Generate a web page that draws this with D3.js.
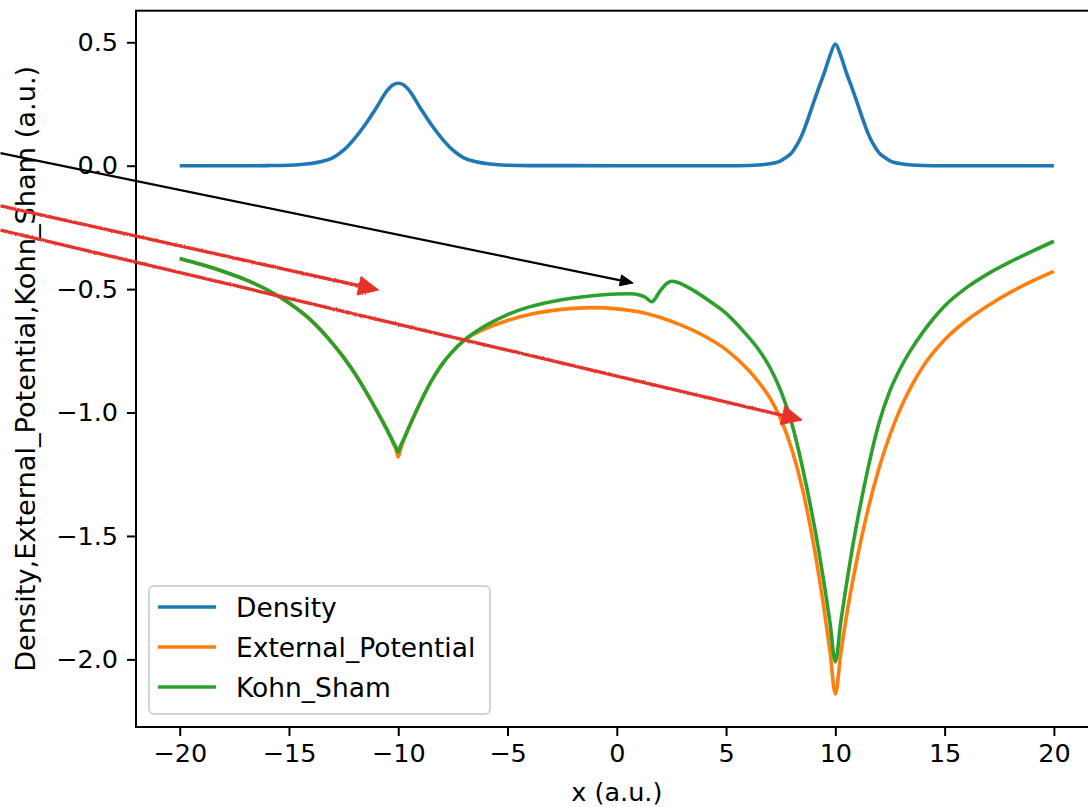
<!DOCTYPE html>
<html>
<head>
<meta charset="utf-8">
<script src="https://cdn.jsdelivr.net/npm/d3@7"></script>
<style>
  body { margin: 0; background: #fff; }
  svg { display: block; }
  text { font-family: "DejaVu Sans", sans-serif; fill: #000; }
</style>
</head>
<body>
<svg width="1088" height="807"></svg>
<script>
// series
const densityX = [-20, -17, -16, -15, -14, -13.5, -13, -12.5, -12, -11.5, -11, -10.5, -10.25, -10, -9.75, -9.5, -9, -8.5, -8, -7.5, -7, -6.5, -6, -5, -4, 0,
  5, 6, 6.5, 7, 7.25, 7.5, 7.75, 8, 8.25, 8.5, 8.75, 9, 9.25, 9.5, 9.75, 10, 10.25, 10.5, 10.75, 11, 11.25, 11.5, 11.75, 12, 12.25, 12.5, 12.75, 13, 13.5, 14, 15, 20];
const densityY = [0, 0, 0.0005, 0.002, 0.009, 0.017, 0.032, 0.063, 0.11, 0.168, 0.235, 0.305, 0.327, 0.334, 0.327, 0.305, 0.235, 0.168, 0.11, 0.063, 0.032, 0.017, 0.009, 0.002, 0.0005, 0,
  0, 0.001, 0.003, 0.008, 0.012, 0.02, 0.034, 0.052, 0.085, 0.13, 0.19, 0.255, 0.318, 0.378, 0.445, 0.493, 0.445, 0.378, 0.318, 0.255, 0.19, 0.13, 0.085, 0.052, 0.034, 0.02, 0.012, 0.008, 0.003, 0.001, 0, 0];

const extX = [-20, -19, -18, -17, -16, -15, -14, -13, -12.5, -12, -11.5, -11, -10.5, -10.25, -10.1, -10, -9.9, -9.75, -9.5, -9, -8.5, -8, -7.5, -7, -6, -5, -4, -3, -2, -1, 0,
  1, 2, 3, 4, 5, 6, 6.5, 7, 7.5, 8, 8.5, 9, 9.5, 9.75, 10, 10.25, 10.5, 11, 11.5, 12, 12.5, 13, 13.5, 14, 15, 16, 17, 18, 19, 20];
const extY = [-0.3755, -0.4005, -0.4285, -0.4615, -0.5025, -0.5565, -0.6255, -0.7205, -0.7765, -0.84, -0.9125, -0.99, -1.0725, -1.12, -1.15, -1.18, -1.15, -1.112, -1.0575, -0.9612, -0.875, -0.805, -0.7512, -0.709, -0.66, -0.627, -0.603, -0.587, -0.578, -0.575, -0.58,
  -0.592, -0.615, -0.648, -0.69, -0.745, -0.826, -0.878, -0.94, -1.0265, -1.1465, -1.3115, -1.5315, -1.8065, -1.964, -2.14, -1.975, -1.83, -1.59, -1.39, -1.225, -1.09, -0.98, -0.89, -0.815, -0.705, -0.627, -0.566, -0.513, -0.468, -0.428];

const ksX = [-20, -19, -18, -17, -16, -15, -14, -13, -12.5, -12, -11.5, -11, -10.5, -10.25, -10.1, -10, -9.9, -9.75, -9.5, -9, -8.5, -8, -7.5, -7, -6, -5, -4, -3, -2, -1, 0,
  0.6, 1, 1.3, 1.6, 2, 2.3, 2.5, 2.8, 3.2, 3.6, 4.3, 5, 5.5, 6, 6.5, 7, 7.5, 8, 8.5, 9, 9.25, 9.5, 9.75, 10,
  10.25, 10.5, 10.75, 11, 11.5, 12, 12.5, 13, 13.5, 14, 14.5, 15, 16, 17, 18, 19, 20];
const ksY = [-0.3755, -0.4005, -0.4285, -0.4615, -0.5025, -0.5565, -0.6255, -0.7205, -0.7765, -0.84, -0.9125, -0.99, -1.0725, -1.116, -1.142, -1.16, -1.136, -1.108, -1.0575, -0.9612, -0.875, -0.805, -0.7512, -0.7087, -0.648, -0.603, -0.572, -0.551, -0.536, -0.526, -0.52,
  -0.519, -0.523, -0.533, -0.551, -0.505, -0.476, -0.468, -0.473, -0.49, -0.51, -0.552, -0.598, -0.642, -0.6915, -0.7465, -0.8165, -0.9115, -1.0415, -1.224, -1.4415, -1.564, -1.70, -1.8475, -2.01,
  -1.8475, -1.70, -1.564, -1.4415, -1.224, -1.0415, -0.9115, -0.8165, -0.74, -0.675, -0.618, -0.568, -0.494, -0.437, -0.39, -0.347, -0.306];

const seriesNames = ["Density", "External_Potential", "Kohn_Sham"];
const colors = ["#1f77b4", "#ff7f0e", "#2ca02c"];
const xTicks = [-20, -15, -10, -5, 0, 5, 10, 15, 20];
const yTicks = [0.5, 0.0, -0.5, -1.0, -1.5, -2.0];

// hand drawn arrows, in data units [x0, y0, x1, y1]
const blackArrow = [-28.2, 0.051, 0.75, -0.475];
const redArrows = [[-28.2, -0.163, -10.9, -0.504], [-28.2, -0.261, 8.48, -1.03]];

const svg = d3.select("svg");
const plotL = 136, plotR = 1097.6, plotT = 10.7, plotB = 727;

const x = d3.scaleLinear().domain([-22, 22]).range([plotL, plotR]);
const y = d3.scaleLinear().domain([-2.274, 0.628]).range([plotB, plotT]);

const line = d3.line()
  .x(d => x(d[0]))
  .y(d => y(d[1]))
  .curve(d3.curveMonotoneX);

const series = [
  d3.zip(densityX, densityY),
  d3.zip(extX, extY),
  d3.zip(ksX, ksY)
];

svg.selectAll(".series")
  .data(series)
  .enter()
  .append("path")
  .attr("class", "series")
  .attr("d", line)
  .attr("fill", "none")
  .attr("stroke", (d, i) => colors[i])
  .attr("stroke-width", 3.6)
  .attr("stroke-linejoin", "round");

// axes
const xAxis = svg.append("g")
  .attr("transform", `translate(0,${plotB})`)
  .call(d3.axisBottom(x).tickValues(xTicks).tickSize(9).tickPadding(8).tickSizeOuter(0)
    .tickFormat(d3.format("d")));
const yAxis = svg.append("g")
  .attr("transform", `translate(${plotL},0)`)
  .call(d3.axisLeft(y).tickValues(yTicks).tickSize(9).tickPadding(9).tickSizeOuter(0)
    .tickFormat(d3.format(".1f")));

[xAxis, yAxis].forEach(a => {
  a.select(".domain").remove();
  a.selectAll(".tick line").attr("stroke", "#000").attr("stroke-width", 2);
  a.selectAll(".tick text").attr("font-family", "DejaVu Sans").attr("font-size", 25.5).attr("fill", "#000");
});

// frame
svg.append("rect")
  .attr("x", plotL).attr("y", plotT)
  .attr("width", plotR - plotL).attr("height", plotB - plotT)
  .attr("fill", "none").attr("stroke", "#000").attr("stroke-width", 2);

svg.append("text")
  .attr("x", (plotL + plotR) / 2).attr("y", 801)
  .attr("text-anchor", "middle").attr("font-size", 25.5)
  .text("x (a.u.)");

svg.append("text")
  .attr("transform", `translate(35,${(plotT + plotB) / 2}) rotate(-90)`)
  .attr("text-anchor", "middle").attr("font-size", 27.2)
  .text("Density,External_Potential,Kohn_Sham (a.u.)");

// legend
const lg = svg.append("g").attr("transform", `translate(${plotL + 13},${plotB - 141})`);
lg.append("rect")
  .attr("width", 341).attr("height", 128).attr("rx", 5)
  .attr("fill", "#fff").attr("fill-opacity", 0.8)
  .attr("stroke", "#d4d4d4").attr("stroke-width", 2);
seriesNames.forEach((name, i) => {
  const yy = 21 + i * 40;
  lg.append("line").attr("x1", 9).attr("x2", 67).attr("y1", yy).attr("y2", yy)
    .attr("stroke", colors[i]).attr("stroke-width", 3.6);
  lg.append("text").attr("x", 87).attr("y", yy + 10).attr("font-size", 26.5).text(name);
});

// annotation arrows
const defs = svg.append("defs");
const rough = defs.append("filter").attr("id", "rough").attr("x", "-5%").attr("y", "-50%").attr("width", "110%").attr("height", "200%");
rough.append("feTurbulence").attr("type", "fractalNoise").attr("baseFrequency", 0.9).attr("numOctaves", 2).attr("result", "n");
rough.append("feDisplacementMap").attr("in", "SourceGraphic").attr("in2", "n").attr("scale", 2.4);

function arrow(a, color, width, headLen, headW, filter) {
  const x0 = x(a[0]), y0 = y(a[1]), x1 = x(a[2]), y1 = y(a[3]);
  const ang = Math.atan2(y1 - y0, x1 - x0);
  const bx = x1 - headLen * Math.cos(ang), by = y1 - headLen * Math.sin(ang);
  const g = svg.append("g");
  if (filter) g.attr("filter", "url(#rough)");
  g.append("line").attr("x1", x0).attr("y1", y0).attr("x2", bx).attr("y2", by)
    .attr("stroke", color).attr("stroke-width", width);
  const px = -Math.sin(ang) * headW / 2, py = Math.cos(ang) * headW / 2;
  g.append("polygon")
    .attr("points", [[x1, y1], [bx + px, by + py], [bx - px, by - py]].map(p => p.join(",")).join(" "))
    .attr("fill", color).attr("stroke", color).attr("stroke-width", 1);
}

arrow(blackArrow, "#000", 2.2, 13, 11, false);
redArrows.forEach(a => arrow(a, "#e6332a", 3.4, 20, 19, true));
</script>
</body>
</html>
